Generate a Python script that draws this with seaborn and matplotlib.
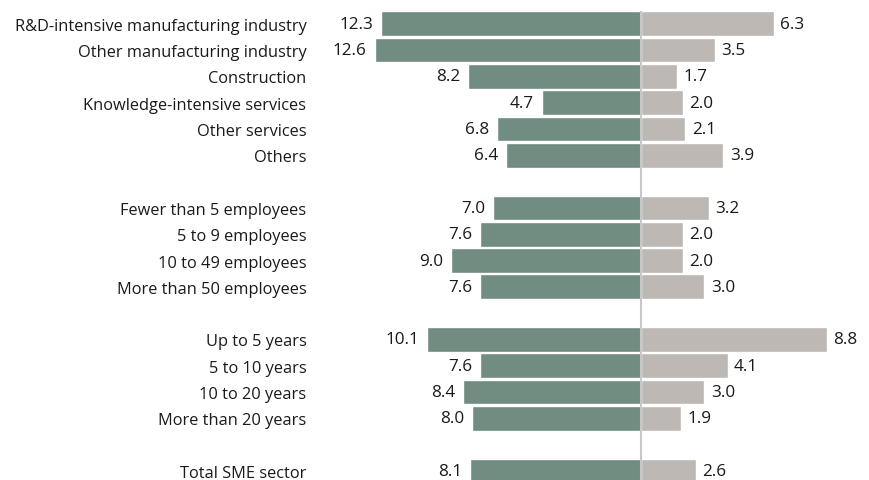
import matplotlib
matplotlib.use("Agg")
import matplotlib.pyplot as plt
import seaborn as sns
import pandas as pd

# Category groups (sector, size, age, total)
sectors = ["R&D-intensive manufacturing industry", "Other manufacturing industry",
           "Construction", "Knowledge-intensive services", "Other services", "Others"]
sizes = ["Fewer than 5 employees", "5 to 9 employees", "10 to 49 employees",
         "More than 50 employees"]
ages = ["Up to 5 years", "5 to 10 years", "10 to 20 years", "More than 20 years"]
total = ["Total SME sector"]

# Left (green) and right (grey) series
left_values = [12.3, 12.6, 8.2, 4.7, 6.8, 6.4,
               7.0, 7.6, 9.0, 7.6,
               10.1, 7.6, 8.4, 8.0,
               8.1]
right_values = [6.3, 3.5, 1.7, 2.0, 2.1, 3.9,
                3.2, 2.0, 2.0, 3.0,
                8.8, 4.1, 3.0, 1.9,
                2.6]

GREEN = "#718c81"
GREY = "#bdb8b4"

categories = sectors + sizes + ages + total
# blank spacer rows between the groups
order = sectors + [" "] + sizes + ["  "] + ages + ["   "] + total

df = pd.DataFrame({"category": categories, "left": left_values, "right": right_values})
df["left_neg"] = -df["left"]

sns.set_theme(style="white")
plt.rcParams["font.family"] = ["Open Sans", "DejaVu Sans"]

fig = plt.figure(figsize=(8.7, 4.81), dpi=100)
ax = fig.add_axes([330 / 870, 0, (860 - 330) / 870, 1])

sns.barplot(data=df, y="category", x="left_neg", order=order, color=GREEN,
            saturation=1, width=0.94, ax=ax, orient="h")
sns.barplot(data=df, y="category", x="right", order=order, color=GREY,
            saturation=1, width=0.94, ax=ax, orient="h")

px = 21.15    # pixels per unit
pitch = 26.3  # pixels per row
top = 24.8    # centre of the first row, in pixels from the top
ax.set_xlim(-(641 - 330) / px, (860 - 641) / px)
ax.set_ylim(17 + (481 - top - 17 * pitch) / pitch, -top / pitch)

ax.vlines(0, -0.47, 18, color="#c8c8c8", lw=1.5, zorder=3)

pos = {c: i for i, c in enumerate(order)}
fs_lab = 11.8
fs_num = 12.3
for cat, lv, rv in zip(categories, left_values, right_values):
    y = pos[cat]
    ax.annotate(f"{lv:.1f}", (-lv, y), xytext=(-5.5, 0), textcoords="offset points",
                ha="right", va="center", fontsize=fs_num, color="#1a1a1a")
    ax.annotate(f"{rv:.1f}", (rv, y), xytext=(4.5, 0), textcoords="offset points",
                ha="left", va="center", fontsize=fs_num, color="#1a1a1a")

ax.set_xlabel("")
ax.set_ylabel("")
ax.set_xticks([])
ax.tick_params(axis="y", length=0, pad=17, labelsize=fs_lab, labelcolor="#1a1a1a")
for s in ax.spines.values():
    s.set_visible(False)

fig.savefig("out.png", dpi=100)
